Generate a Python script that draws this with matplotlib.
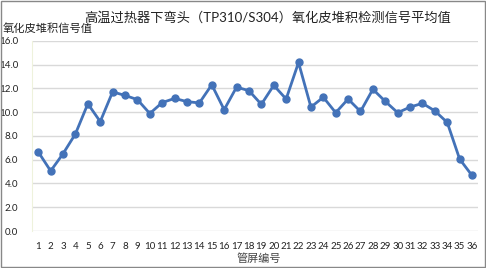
import matplotlib
matplotlib.use("Agg")
import matplotlib.pyplot as plt
from matplotlib.patches import Rectangle

plt.rcParams['font.family'] = ['Lato', 'Noto Sans CJK SC', 'DejaVu Sans']

tubes = list(range(1, 37))
signal = [6.65, 5.05, 6.5, 8.17, 10.7, 9.2, 11.7, 11.4, 11.05, 9.88,
          10.8, 11.15, 10.88, 10.77, 12.3, 10.2, 12.1, 11.8, 10.65, 12.25,
          11.1, 14.17, 10.42, 11.25, 9.95, 11.1, 10.05, 11.92, 10.9, 9.95,
          10.42, 10.74, 10.1, 9.13, 6.05, 4.67]
yticks = [0, 2, 4, 6, 8, 10, 12, 14, 16]

title = "高温过热器下弯头（TP310/S304）氧化皮堆积检测信号平均值"
ylabel = "氧化皮堆积信号值"
xlabel = "管屏编号"

fig = plt.figure(figsize=(4.86, 2.68), dpi=100)
ax = fig.add_axes([0.066, 0.138, 0.918, 0.71])

color = '#4372b8'
ax.plot(tubes, signal, color=color, lw=2, marker='o', ms=5, zorder=3)

ax.set_xlim(0.5, 36.5)
ax.set_ylim(0, 16)
ax.set_yticks(yticks)
ax.set_yticklabels([f"{v:.1f}" for v in yticks], fontsize=7)
ax.set_xticks(tubes)
ax.set_xticklabels([str(t) for t in tubes], fontsize=7)
ax.tick_params(axis='both', length=0, colors='#222222')
ax.tick_params(axis='x', pad=8)
ax.tick_params(axis='y', pad=10)
ax.grid(axis='y', color='#d9d9d9', lw=1)
ax.set_axisbelow(True)
for s in ['top', 'right', 'bottom']:
    ax.spines[s].set_visible(False)
ax.spines['left'].set_color('#eef2dc')

fig.text(268 / 486, 1 - 17 / 268, title, fontsize=9.5, ha='center', va='center', color='#222222')
fig.text(3 / 486, 1 - 28 / 268, ylabel, fontsize=8.1, ha='left', va='center', color='#222222')
fig.text(259 / 486, 1 - 258 / 268, xlabel, fontsize=8, ha='center', va='center', color='#444444')

fig.patches.append(Rectangle((0.002, 0.004), 0.996, 0.992, transform=fig.transFigure,
                             fill=False, edgecolor='#888888', lw=1))

fig.savefig("out.png", dpi=100, facecolor='white')
